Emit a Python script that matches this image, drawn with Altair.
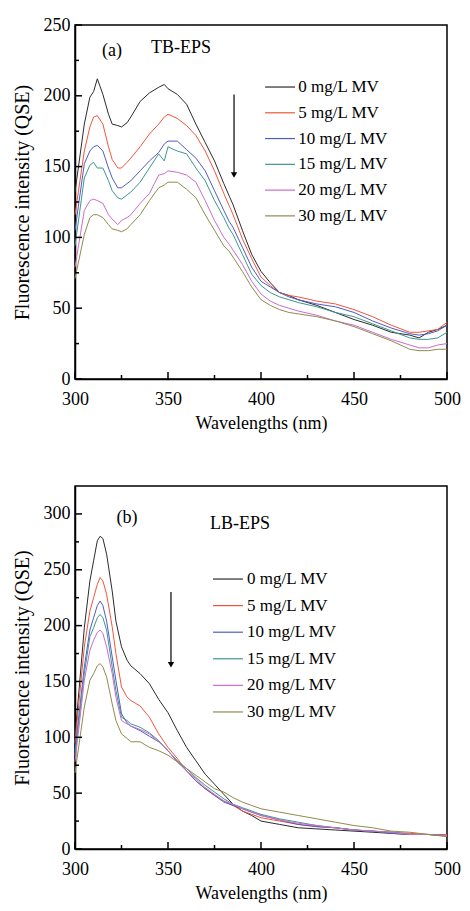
import altair as alt
import pandas as pd

FONT = "Liberation Serif, Tinos, Times New Roman, Times, serif"

series = ["0 mg/L MV", "5 mg/L MV", "10 mg/L MV", "15 mg/L MV", "20 mg/L MV", "30 mg/L MV"]
colors = ["#2b2b2b", "#f4553a", "#4f5cc4", "#3d9690", "#cc6ccc", "#8f8c4c"]

# ---- panel (a) TB-EPS ----
wl_a = [300, 305, 308, 310, 312, 315, 318, 320, 323, 325, 328, 330, 335, 340, 345, 348, 350,
        355, 360, 365, 370, 375, 380, 383, 385, 390, 395, 400, 405, 410, 415, 420, 430, 440,
        450, 460, 470, 480, 485, 490, 495, 500]
tb_0 = [132, 180, 199, 203, 212, 201, 187, 180, 179, 178, 181, 185, 196, 202, 206, 208, 205,
        201, 194, 180, 167, 154, 138, 129, 123, 105, 88, 76, 68, 61, 59, 56, 52, 47,
        42, 38, 33, 31, 29, 33, 35, 38]
tb_5 = [116, 161, 178, 185, 186, 180, 164, 155, 149, 149, 153, 156, 164, 173, 180, 185, 187,
        184, 179, 172, 161, 147, 131, 122, 116, 99, 85, 72, 66, 61, 59, 58, 55, 53,
        49, 44, 38, 33, 33, 34, 35, 40]
tb_10 = [105, 152, 161, 164, 165, 161, 149, 142, 135, 135, 138, 140, 147, 154, 160, 166, 168,
         168, 162, 156, 147, 133, 119, 111, 107, 93, 79, 69, 65, 61, 58, 56, 53, 51,
         47, 41, 36, 32, 31, 32, 34, 38]
tb_15 = [94, 142, 151, 153, 149, 149, 140, 133, 128, 127, 130, 132, 139, 149, 159, 154, 164,
         161, 159, 149, 140, 126, 114, 106, 102, 88, 74, 66, 61, 58, 56, 54, 51, 47,
         44, 39, 34, 29, 28, 28, 29, 33]
tb_20 = [79, 119, 126, 127, 126, 124, 116, 113, 109, 112, 114, 116, 124, 131, 144, 145, 147,
         146, 144, 139, 126, 112, 100, 95, 91, 81, 69, 60, 55, 52, 50, 48, 45, 41,
         38, 33, 28, 24, 22, 22, 24, 25]
tb_30 = [71, 102, 114, 116, 116, 114, 109, 106, 105, 104, 106, 109, 116, 126, 135, 137, 139,
         139, 134, 128, 116, 105, 94, 90, 86, 76, 65, 56, 52, 49, 47, 46, 44, 41,
         37, 32, 27, 21, 20, 20, 21, 21]

# ---- panel (b) LB-EPS ----
wl_b = [300, 305, 308, 310, 312, 313.5, 315, 317, 320, 322, 325, 328, 330, 335, 340, 345, 350,
        355, 360, 365, 370, 375, 380, 385, 390, 395, 400, 410, 420, 430, 440, 450, 460,
        470, 480, 490, 500]
lb_0 = [100, 198, 240, 258, 276, 280, 278, 264, 231, 204, 181, 169, 164, 157, 148, 134, 122,
        106, 91, 79, 67, 58, 49, 40, 34, 30, 25, 22, 19, 18, 17, 16, 15, 14, 13, 13, 12]
lb_5 = [95, 181, 213, 225, 237, 243, 240, 228, 199, 175, 145, 136, 133, 128, 118, 103, 91,
        81, 70, 61, 54, 48, 43, 39, 34, 31, 28, 25, 22, 20, 19, 17, 16, 15, 14, 13, 13]
lb_10 = [88, 163, 196, 207, 218, 222, 218, 204, 172, 151, 121, 113, 110, 106, 101, 96, 88,
         78, 70, 61, 54, 48, 42, 39, 36, 33, 30, 26, 22, 20, 19, 17, 16, 14, 13, 13, 12]
lb_15 = [84, 157, 190, 198, 207, 210, 207, 196, 163, 142, 118, 115, 112, 109, 104, 97, 88,
         79, 72, 64, 57, 51, 45, 40, 37, 34, 31, 27, 24, 21, 19, 17, 16, 15, 13, 13, 12]
lb_20 = [78, 151, 178, 187, 194, 196, 193, 181, 157, 136, 115, 112, 110, 107, 103, 96, 88,
         79, 70, 63, 55, 49, 43, 40, 36, 33, 30, 26, 23, 21, 19, 17, 16, 15, 13, 13, 12]
lb_30 = [68, 127, 151, 157, 164, 166, 163, 154, 130, 115, 103, 99, 96, 96, 91, 88, 84,
         78, 72, 66, 60, 54, 51, 46, 42, 39, 36, 33, 30, 27, 24, 21, 19, 16, 15, 13, 11]

x_major = [300, 350, 400, 450, 500]
x_minor = [325, 375, 425, 475]
y_major_a = [0, 50, 100, 150, 200, 250]
y_minor_a = [25, 75, 125, 175, 225]
y_major_b = [0, 50, 100, 150, 200, 250, 300]
y_minor_b = [25, 75, 125, 175, 225, 275]


def panel(wl, ys, ymax, ymaj, ymin, w, h, leg, tag, name, arrow):
    rows = []
    for s, vals in zip(series, ys):
        for x, v in zip(wl, vals):
            rows.append({"wl": x, "val": v, "series": s})
    df = pd.DataFrame(rows)

    xs = alt.Scale(domain=[300, 500], nice=False, zero=False)
    yscale = alt.Scale(domain=[0, ymax], nice=False)
    xaxis = alt.Axis(values=x_major, title="Wavelengths (nm)", tickSize=0, labelPadding=11,
                     labelFlush=False, grid=False, domainColor="black", domainWidth=1.5,
                     labelFont=FONT, labelFontSize=18, labelColor="black",
                     titleFont=FONT, titleFontSize=18, titleFontWeight="normal",
                     titleColor="black", titlePadding=6, format="d")
    yaxis = alt.Axis(values=ymaj, title="Fluorescence intensity (QSE)", tickSize=0,
                     labelPadding=5, labelFlush=False, grid=False, domainColor="black",
                     domainWidth=1.5, labelFont=FONT, labelFontSize=18, labelColor="black",
                     titleFont=FONT, titleFontSize=20, titleFontWeight="normal",
                     titleColor="black", titlePadding=11, format="d")
    X = lambda: alt.X("wl:Q", scale=xs, axis=xaxis)
    Y = lambda: alt.Y("val:Q", scale=yscale, axis=yaxis)
    color = alt.Color("series:N", scale=alt.Scale(domain=series, range=colors), legend=None)

    lines = alt.Chart(df).mark_line(strokeWidth=1).encode(x=X(), y=Y(), color=color)

    # inward ticks
    xt_maj = alt.Chart(pd.DataFrame({"wl": x_major})).mark_rule(color="black", strokeWidth=1.5).encode(
        x=X(), y=alt.value(h), y2=alt.value(h - 7))
    xt_min = alt.Chart(pd.DataFrame({"wl": x_minor})).mark_rule(color="black", strokeWidth=1.5).encode(
        x=X(), y=alt.value(h), y2=alt.value(h - 4))
    yt_maj = alt.Chart(pd.DataFrame({"val": ymaj})).mark_rule(color="black", strokeWidth=1.5).encode(
        y=Y(), x=alt.value(0), x2=alt.value(7))
    yt_min = alt.Chart(pd.DataFrame({"val": ymin})).mark_rule(color="black", strokeWidth=1.5).encode(
        y=Y(), x=alt.value(0), x2=alt.value(4))

    # legend
    lx0, lx1, ltx, ly0, ldy = leg
    ldf = pd.DataFrame({"series": series, "wl": [lx0] * 6, "wl2": [lx1] * 6,
                        "val": [ly0 - i * ldy for i in range(6)]})
    leg_lines = alt.Chart(ldf).mark_rule(strokeWidth=1.2).encode(
        x=X(), x2="wl2:Q", y=Y(), color=color)
    tdf = pd.DataFrame({"series": series, "wl": [ltx] * 6,
                        "val": [ly0 - i * ldy for i in range(6)]})
    leg_text = alt.Chart(tdf).mark_text(align="left", baseline="middle", font=FONT,
                                        fontSize=17, color="black").encode(
        x=X(), y=Y(), text="series:N")

    adf = pd.DataFrame({"wl": [tag[1], name[1]], "val": [tag[2], name[2]], "label": [tag[0], name[0]]})
    ann = alt.Chart(adf).mark_text(align="center", baseline="middle", font=FONT, fontSize=18,
                                   color="black").encode(x=X(), y=Y(), text="label:N")

    ax, ay0, ay1 = arrow
    shaft = alt.Chart(pd.DataFrame({"wl": [ax], "val": [ay0], "val2": [ay1]})).mark_rule(
        color="black", strokeWidth=1.2).encode(x=X(), y=Y(), y2="val2:Q")
    head = alt.Chart(pd.DataFrame({"wl": [ax], "val": [ay1]})).mark_point(
        shape="triangle-down", filled=True, size=40, color="black", opacity=1).encode(x=X(), y=Y())

    return alt.layer(lines, xt_maj, xt_min, yt_maj, yt_min, leg_lines, leg_text, ann, shaft, head).properties(
        width=w, height=h)


top = panel(wl_a, [tb_0, tb_5, tb_10, tb_15, tb_20, tb_30], 250, y_major_a, y_minor_a, 372, 354,
            (402.2, 418.3, 420.0, 206.2, 18.2), ("(a)", 319.9, 231.6), ("TB-EPS", 357, 233.8),
            (385.5, 201, 144))
bottom = panel(wl_b, [lb_0, lb_5, lb_10, lb_15, lb_20, lb_30], 325, y_major_b, y_minor_b, 372, 363,
               (374.2, 390.3, 392.5, 241.7, 23.8), ("(b)", 328, 296), ("LB-EPS", 388.7, 291),
               (351.6, 230, 165))

chart = alt.vconcat(top, bottom, spacing=52).properties(
    padding={"left": 3, "top": 7, "right": 0, "bottom": 0}
).configure_view(stroke="black", strokeWidth=1.5)

chart.save("out.html", embed_options={"renderer": "svg", "actions": False})
